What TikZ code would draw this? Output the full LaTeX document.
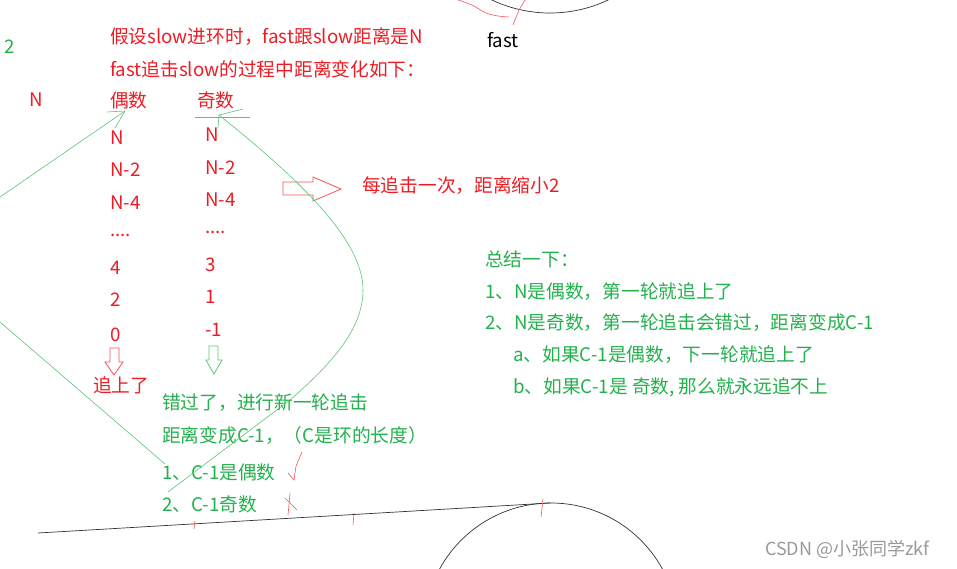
\documentclass[tikz,border=0pt]{standalone}
\usepackage{fontspec}
\setmainfont{Noto Sans CJK SC}
\definecolor{pred}{RGB}{237,28,36}
\definecolor{pgreen}{RGB}{34,177,76}
\begin{document}
\begin{tikzpicture}[x=1pt,y=-1pt,
  txt/.style={anchor=west,inner sep=0pt,font=\fontsize{18.7}{22}\selectfont},
  rtxt/.style={txt,text=pred},
  gtxt/.style={txt,text=pgreen},
  gline/.style={draw=pgreen!75,line width=0.6pt},
  rline/.style={draw=pred!75,line width=0.6pt},
  kline/.style={draw=black!80,line width=0.7pt},
  rhollow/.style={draw=pred!75,line width=0.8pt,line join=miter},
  ghollow/.style={draw=pgreen!75,line width=0.8pt,line join=miter}]
\useasboundingbox (0,0) rectangle (957,568);
\clip (0,0) rectangle (957,568);

% circles (ring)
\draw[kline] (550,-123) circle[radius=136];
\draw[kline] (551,630) circle[radius=127];
\coordinate (lineA) at (38,533);
\coordinate (lineB) at (550,503);
\draw[kline] (lineA) -- (lineB);

% red scribbles
\draw[rline] plot[smooth] coordinates {(458,0) (472,5) (486,13) (498,16) (509,17)};
\draw[rline] (525,0) -- (519,10) -- (513,25);
\draw[rline] (195,521) -- (194,529);
\draw[rline] (354,513) -- (353,525);
\draw[rline] (543,499) -- (541,517);
\draw[rline] (288,473) -- (294,480) -- (296,466) -- (302,452);
\draw[rline] (285,498) -- (297,510);
\draw[rline] (290,493) -- (288,515);

% texts
\node[gtxt] (two) at (4,47) {2};
\node[rtxt] (bigN) at (29,100) {N};
\node[rtxt] (t1) at (110,37) {假设slow进环时，fast跟slow距离是N};
\node[rtxt] (t2) at (110,69) {fast追击slow的过程中距离变化如下：};
\node[rtxt] (even) at (110,100) {偶数};
\node[rtxt] (odd) at (197,100) {奇数};
\node[txt] (fast) at (487,40) {fast};

\node[rtxt] (e1) at (110,138) {N};
\node[rtxt] (e2) at (110,170) {N-2};
\node[rtxt] (e3) at (110,203) {N-4};
\node[rtxt] (e4) at (110,235) {....};
\node[rtxt] (e5) at (110,268) {4};
\node[rtxt] (e6) at (110,300) {2};
\node[rtxt] (e7) at (110,335) {0};

\node[rtxt] (o1) at (205,135) {N};
\node[rtxt] (o2) at (205,168) {N-2};
\node[rtxt] (o3) at (205,200) {N-4};
\node[rtxt] (o4) at (205,232) {....};
\node[rtxt] (o5) at (205,265) {3};
\node[rtxt] (o6) at (205,297) {1};
\node[rtxt] (o7) at (205,330) {-1};

\node[rtxt] (caught) at (93,385) {追上了};
\node[rtxt] (step2) at (362,186) {每追击一次，距离缩小2};

\node[gtxt] (g1) at (162,403) {错过了，进行新一轮追击};
\node[gtxt] (g2) at (162,435) {距离变成C-1，（C是环的长度）};
\node[gtxt] (g3) at (162,472) {1、C-1是偶数};
\node[gtxt] (g4) at (162,504) {2、C-1奇数};

\node[gtxt] (s0) at (485,259) {总结一下：};
\node[gtxt] (s1) at (485,292) {1、N是偶数，第一轮就追上了};
\node[gtxt] (s2) at (485,323) {2、N是奇数，第一轮追击会错过，距离变成C-1};
\node[gtxt] (s3) at (513,355) {a、如果C-1是偶数，下一轮就追上了};
\node[gtxt] (s4) at (513,387) {b、如果C-1是 奇数, 那么就永远追不上};

\node[anchor=west,inner sep=0pt,text=black!40,font=\fontsize{18}{20}\selectfont] (wm) at (765,549) {CSDN @小张同学zkf};

% hollow arrows
\draw[rhollow] (283,182) -- (313,182) -- (313,177) -- (341,189) -- (313,201) -- (313,195) -- (283,195) -- cycle;
\draw[rhollow] (110,348) -- (119,348) -- (119,362) -- (123,362) -- (114,375) -- (105,362) -- (110,362) -- cycle;
\draw[ghollow] (209,346) -- (218,346) -- (218,360) -- (222,360) -- (214,374) -- (206,360) -- (209,360) -- cycle;

% green connectors
\coordinate (evtip) at (125,111);
\coordinate (evstart) at (0,197);
\draw[gline] (evstart) -- (evtip);
\draw[gline] (evtip) -- (107,112);
\draw[gline] (evtip) -- (115,128);

\coordinate (odtip) at (219,115);
\coordinate (odstart) at (168,492);
\coordinate (odbend) at (290,400);
\coordinate (odright) at (363,290);
\draw[gline] (195,117) -- (250,117);
\draw[gline] (odtip) -- (243,109);
\draw[gline] (odtip) -- (218,128);
\draw[gline] (odstart) -- (odbend) .. controls (330,365) and (363,330) .. (odright) .. controls (363,240) and (300,180) .. (odtip);

\coordinate (lowstart) at (0,322);
\coordinate (lowend) at (165,464);
\draw[gline] (lowstart) -- (lowend);
\end{tikzpicture}
\end{document}
